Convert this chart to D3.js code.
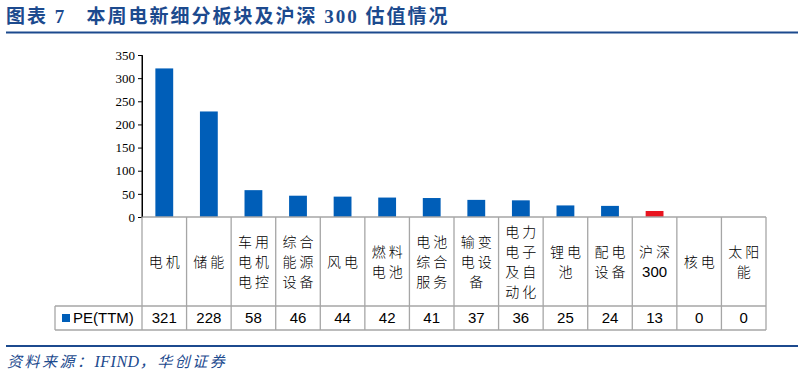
<!DOCTYPE html>
<html>
<head>
<meta charset="utf-8">
<script src="https://cdn.jsdelivr.net/npm/d3@7"></script>
<style>
  body { margin: 0; background: #fff; }
  svg { display: block; }
</style>
</head>
<body>
<svg></svg>
<script>
// Chart data
const categories = [
  ["电机"], ["储能"], ["车用", "电机", "电控"], ["综合", "能源", "设备"], ["风电"],
  ["燃料", "电池"], ["电池", "综合", "服务"], ["输变", "电设", "备"], ["电力", "电子", "及自", "动化"],
  ["锂电", "池"], ["配电", "设备"], ["沪深", "300"], ["核电"], ["太阳", "能"]
];
const peValues = [321, 228, 58, 46, 44, 42, 41, 37, 36, 25, 24, 13, 0, 0];
const highlight = ["沪深300"];
const yTicks = [0, 50, 100, 150, 200, 250, 300, 350];
const seriesName = "PE(TTM)";

const width = 804, height = 377;
const svg = d3.select("svg").attr("width", width).attr("height", height);

const blue = "#005eb8", red = "#e8141f", titleBlue = "#1c4a8e", gridGray = "#a6a6a6";

// Title and rules
svg.append("text")
    .attr("x", 6).attr("y", 23)
    .attr("font-family", "'Liberation Serif', 'Noto Sans CJK SC', serif")
    .attr("font-weight", "bold").attr("font-size", 19)
    .attr("letter-spacing", 2)
    .attr("fill", titleBlue)
    .text("图表 7\u00a0\u00a0\u00a0本周电新细分板块及沪深 300 估值情况");
svg.append("line").attr("x1", 6).attr("x2", 798).attr("y1", 32.5).attr("y2", 32.5)
    .attr("stroke", titleBlue).attr("stroke-width", 2);
svg.append("line").attr("x1", 6).attr("x2", 798).attr("y1", 346).attr("y2", 346)
    .attr("stroke", titleBlue).attr("stroke-width", 2);

// Source note; the latin part is not spaced out
const src = svg.append("text")
    .attr("x", 7).attr("y", 367)
    .attr("font-family", "'Noto Sans CJK SC', sans-serif")
    .attr("font-style", "italic").attr("font-size", 15)
    .attr("fill", titleBlue);
src.append("tspan").attr("letter-spacing", 2.5).text("资料来源：");
src.append("tspan").attr("font-family", "'Liberation Serif', serif").attr("font-size", 16).attr("letter-spacing", 0.5).text("IFIND");
src.append("tspan").attr("letter-spacing", 2.5).text("，华创证券");

// Scales
const plotLeft = 142, plotRight = 766, baseY = 217, topY = 55;
const x = d3.scaleBand().domain(d3.range(categories.length)).range([plotLeft, plotRight]);
const y = d3.scaleLinear().domain([0, 350]).range([baseY, topY]);

// Y axis
const yAxis = svg.append("g")
    .attr("transform", `translate(${plotLeft},0)`)
    .call(d3.axisLeft(y).tickValues(yTicks).tickSize(4).tickPadding(3));
yAxis.select(".domain").attr("stroke", "#000");
yAxis.selectAll(".tick line").attr("stroke", "#000");
yAxis.selectAll("text")
    .attr("font-family", "'Liberation Serif', serif")
    .attr("font-size", 13).attr("fill", "#000");

// Bars
const bw = x.bandwidth() * 0.4;
svg.selectAll("rect.bar")
    .data(peValues)
    .enter().append("rect")
    .attr("class", "bar")
    .attr("x", (d, i) => x(i) + (x.bandwidth() - bw) / 2)
    .attr("y", d => y(d))
    .attr("width", bw)
    .attr("height", d => baseY - y(d))
    .attr("fill", (d, i) => highlight.includes(categories[i].join("")) ? red : blue);

// Data table under the chart
const rowCatBottom = 306, rowValBottom = 330, legendLeft = 55;
const grid = svg.append("g").attr("stroke", gridGray).attr("stroke-width", 1.3);
grid.append("line").attr("x1", plotLeft).attr("x2", plotRight).attr("y1", baseY).attr("y2", baseY);
grid.append("line").attr("x1", legendLeft).attr("x2", plotRight).attr("y1", rowCatBottom).attr("y2", rowCatBottom);
grid.append("line").attr("x1", legendLeft).attr("x2", plotRight).attr("y1", rowValBottom).attr("y2", rowValBottom);
grid.append("line").attr("x1", legendLeft).attr("x2", legendLeft).attr("y1", rowCatBottom).attr("y2", rowValBottom);
grid.selectAll("line.col")
    .data(d3.range(categories.length + 1))
    .enter().append("line")
    .attr("class", "col")
    .attr("x1", i => i < categories.length ? x(i) : plotRight)
    .attr("x2", i => i < categories.length ? x(i) : plotRight)
    .attr("y1", baseY).attr("y2", rowValBottom);
// re-draw axis line on top of table border
svg.append("line").attr("x1", plotLeft).attr("x2", plotLeft).attr("y1", topY).attr("y2", baseY).attr("stroke", "#000");

// Category labels, stacked lines
const lineGap = 20, catMid = (baseY + rowCatBottom) / 2;
categories.forEach((lines, i) => {
    const cx = x(i) + x.bandwidth() / 2;
    const y0 = catMid - (lines.length - 1) * lineGap / 2;
    lines.forEach((s, j) => {
        const isNum = /^\d+$/.test(s);
        svg.append("text")
            .attr("x", cx + (isNum ? 0 : 1.5))
            .attr("y", y0 + j * lineGap)
            .attr("dy", "0.36em")
            .attr("text-anchor", "middle")
            .attr("font-family", isNum ? "'Liberation Sans', Arial, sans-serif" : "'Noto Sans CJK SC', sans-serif")
            .attr("font-size", isNum ? 15 : 14)
            .attr("letter-spacing", isNum ? 0 : 3)
            .attr("font-weight", 300)
            .attr("fill", "#000")
            .text(s);
    });
});

// Value row
const valMid = (rowCatBottom + rowValBottom) / 2;
svg.selectAll("text.val")
    .data(peValues)
    .enter().append("text")
    .attr("class", "val")
    .attr("x", (d, i) => x(i) + x.bandwidth() / 2)
    .attr("y", valMid)
    .attr("dy", "0.36em")
    .attr("text-anchor", "middle")
    .attr("font-family", "'Liberation Sans', Arial, sans-serif")
    .attr("font-size", 15)
    .text(d => d);

// Legend cell
svg.append("rect").attr("x", 62).attr("y", valMid - 4).attr("width", 8).attr("height", 8).attr("fill", blue);
svg.append("text")
    .attr("x", 73).attr("y", valMid).attr("dy", "0.36em")
    .attr("font-family", "'Liberation Sans', Arial, sans-serif")
    .attr("font-size", 15)
    .text(seriesName);
</script>
</body>
</html>
